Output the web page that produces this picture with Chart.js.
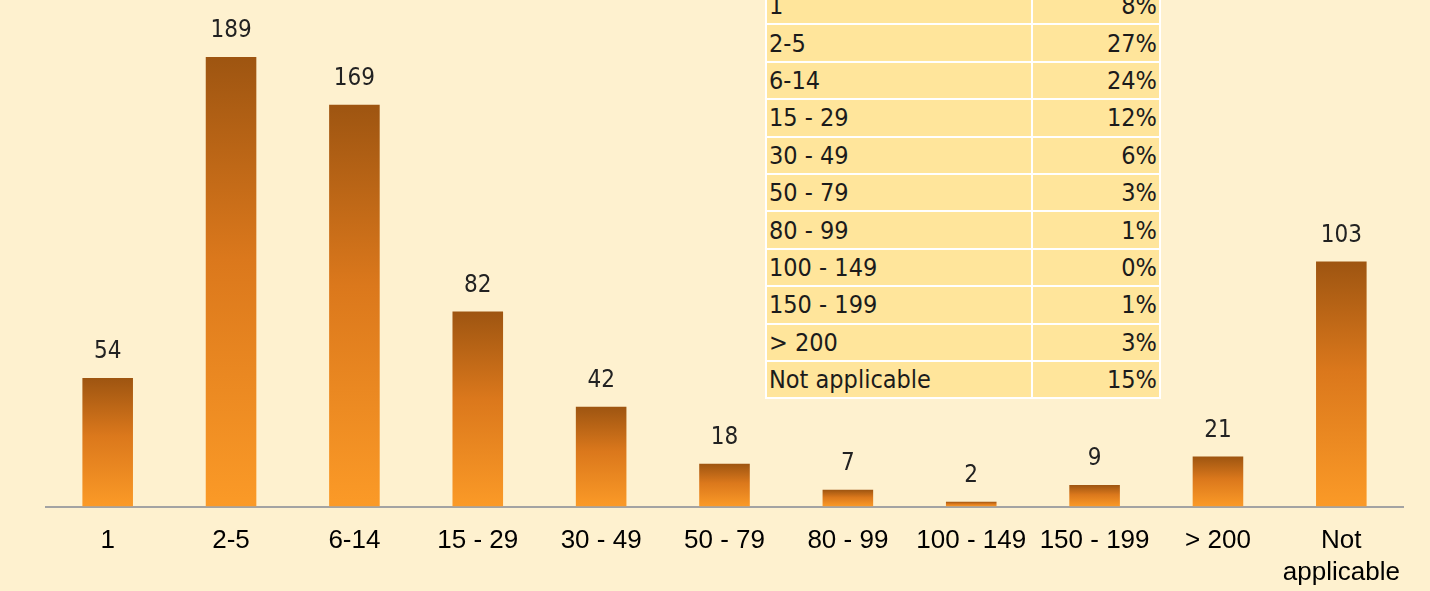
<!DOCTYPE html>
<html>
<head>
<meta charset="utf-8">
<script src="https://cdn.jsdelivr.net/npm/chart.js@4"></script>
<style>
  html, body { margin: 0; padding: 0; background: #FEF1CF; overflow: hidden; }
  #wrap { position: relative; width: 1430px; height: 591px; }
  #shareTable {
    position: absolute; left: 765px; top: -14px;
    border-collapse: collapse; background: #FFE59B;
    font-family: "DejaVu Sans Condensed", "Liberation Sans Narrow", sans-serif;
    font-size: 25px; color: #1b1b1b;
  }
  #shareTable td {
    border: 2px solid #FFFFFF; height: 35.4px; padding: 0 2px; line-height: 35px;
  }
  #shareTable td.lab { width: 260px; text-align: left; }
  #shareTable td.pct { width: 122px; text-align: right; }
</style>
</head>
<body>
<div id="wrap">
  <canvas id="bandChart"></canvas>
  <table id="shareTable"></table>
</div>
<script>
const categories = ['1', '2-5', '6-14', '15 - 29', '30 - 49', '50 - 79', '80 - 99', '100 - 149', '150 - 199', '> 200', ['Not', 'applicable']];
const counts = [54, 189, 169, 82, 42, 18, 7, 2, 9, 21, 103];
const tableLabels = ['1', '2-5', '6-14', '15 - 29', '30 - 49', '50 - 79', '80 - 99', '100 - 149', '150 - 199', '> 200', 'Not applicable'];
const tablePercents = [8, 27, 24, 12, 6, 3, 1, 0, 1, 3, 15];

// fill the share table
const table = document.getElementById('shareTable');
tableLabels.forEach((lab, i) => {
    const tr = document.createElement('tr');
    tr.innerHTML = '<td class="lab"></td><td class="pct"></td>';
    tr.children[0].textContent = lab;
    tr.children[1].textContent = tablePercents[i] + '%';
    table.appendChild(tr);
});

// gradient per bar, dark on top going to orange at the base
function barGradient(ctx) {
    const chart = ctx.chart;
    const yScale = chart.scales.y;
    if (!chart.chartArea || !yScale || ctx.type !== 'data') return '#E8871F';
    const top = yScale.getPixelForValue(ctx.raw);
    const base = yScale.getPixelForValue(0);
    if (!isFinite(top) || Math.abs(base - top) < 1) return '#E8871F';
    const g = chart.ctx.createLinearGradient(0, top, 0, base);
    g.addColorStop(0, '#9E5511');
    g.addColorStop(0.45, '#DB781C');
    g.addColorStop(1, '#FB9A27');
    return g;
}

const valueLabels = {
    id: 'valueLabels',
    afterDatasetsDraw(chart) {
        const c = chart.ctx;
        const meta = chart.getDatasetMeta(0);
        c.save();
        c.font = '24px "DejaVu Sans Condensed", "Liberation Sans Narrow", sans-serif';
        c.fillStyle = '#222222';
        c.textAlign = 'center';
        c.textBaseline = 'bottom';
        meta.data.forEach((bar, i) => {
            c.fillText(String(counts[i]), bar.x, bar.y - 14);
        });
        c.restore();
    }
};

new Chart(document.getElementById('bandChart').getContext('2d'), {
    type: 'bar',
    data: {
        labels: categories,
        datasets: [{
            data: counts,
            backgroundColor: barGradient,
            borderWidth: 0,
            barPercentage: 0.41,
            categoryPercentage: 1.0
        }]
    },
    options: {
        responsive: true,
        maintainAspectRatio: false,
        animation: false,
        layout: { padding: { left: 46, right: 27, top: 0, bottom: -16 } },
        plugins: {
            legend: { display: false },
            tooltip: { enabled: false }
        },
        scales: {
            x: {
                grid: { display: false, drawTicks: false },
                border: { display: true, color: '#A3A3A3', width: 2 },
                ticks: {
                    color: '#000000',
                    padding: 18,
                    maxRotation: 0,
                    autoSkip: false,
                    font: { family: '"Liberation Sans", Arial, sans-serif', size: 26, lineHeight: 1.24 }
                }
            },
            y: {
                display: false,
                min: 0,
                max: 213
            }
        }
    },
    plugins: [valueLabels]
});
</script>
</body>
</html>
